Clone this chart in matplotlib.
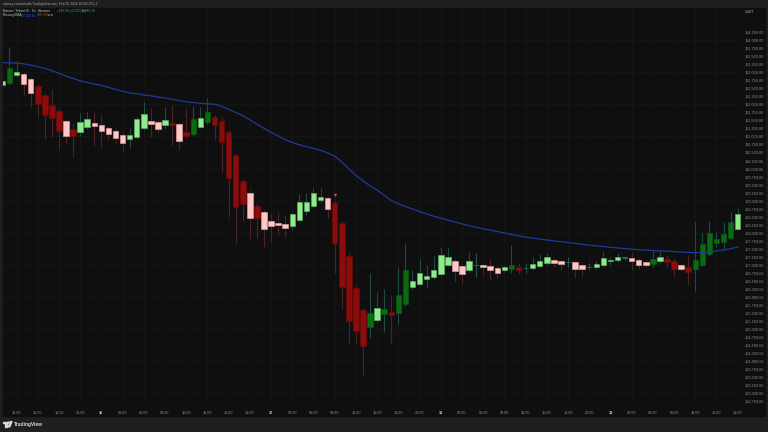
import matplotlib.pyplot as plt
from matplotlib.patches import Rectangle, Circle, Polygon

W, H = 768, 432

# hourly BTC/USDT candles, Feb 15 10:00 -> Feb 19 18:00
opens = [112597, 112659, 112908, 112949, 112784, 112575, 112285, 111982, 111795, 111474,
         111243, 111131, 111287, 111421, 111358, 111265, 111180, 111056, 110931, 110993,
         111274, 111483, 111442, 111349, 111430, 111389, 111131, 111068, 111305, 111442,
         111598, 111483, 111149, 110423, 109612, 109247, 108841, 108645, 108373, 108302,
         108270, 108208, 108395, 108685, 108823, 109028, 109091, 108916, 108292, 107282,
         106265, 105588, 105049, 105276, 105463, 105535, 105504, 105766, 106296, 106399,
         106564, 106608, 106726, 107007, 107116, 106960, 106826, 106992, 106992, 106960,
         106907, 106826, 106867, 106939, 106889, 106889, 106960, 107045, 107138, 107107,
         107076, 107076, 106982, 106929, 106929, 106982, 107107, 107138, 107219, 107210,
         107157, 107076, 107038, 107107, 107169, 107110, 106998, 106945, 106857, 106992,
         107325, 107668, 107718, 107843, 108105]
highs = [112793, 113782, 113364, 113011, 112855, 112637, 112356, 112472, 111857, 111545,
         111421, 111723, 111773, 111773, 111670, 111327, 111265, 111140, 111255, 111617,
         112076, 111879, 111514, 111929, 111982, 111452, 111857, 111951, 111929, 112191,
         111670, 111639, 111202, 110485, 109674, 109331, 108925, 108707, 108604, 108635,
         108551, 108645, 109206, 109228, 109384, 109393, 109144, 108988, 108364, 107366,
         106337, 105651, 106733, 106140, 106243, 106056, 106939, 107687, 106826, 107179,
         106992, 107272, 107562, 107512, 107179, 107023, 107406, 107375, 107054, 107169,
         106960, 106976, 107615, 107045, 107045, 107232, 107325, 107357, 107210, 107148,
         107251, 107116, 107023, 107045, 107116, 107428, 107251, 107357, 107288, 107357,
         107210, 107116, 107438, 107428, 107304, 107210, 107054, 107304, 108342, 107999,
         108373, 108030, 108342, 108654, 108760]
lows = [112544, 112621, 112871, 112294, 111929, 111617, 110931, 110993, 110579, 110788,
        110370, 111024, 111233, 110703, 110681, 110890, 110788, 110557, 110641, 110953,
        111202, 110993, 111099, 111255, 110734, 110579, 110943, 111015, 111265, 111389,
        110890, 109902, 108498, 107687, 108373, 107824, 107824, 107562, 107718, 107918,
        107874, 108083, 108333, 108551, 108770, 108935, 108448, 106733, 105610, 104550,
        104550, 103561, 104724, 105214, 104911, 104568, 105142, 105713, 106243, 106337,
        106315, 106555, 106680, 106960, 106471, 106399, 106773, 106627, 106680, 106524,
        106577, 106773, 106733, 106702, 106733, 106836, 106898, 106992, 106939, 106836,
        106920, 106577, 106649, 106836, 106882, 106929, 106992, 107085, 107148, 106836,
        106857, 106920, 106914, 107054, 106889, 106649, 106804, 106368, 106196, 106960,
        107272, 107544, 107481, 107803, 108068]
closes = [112721, 113145, 113002, 112628, 112347, 112004, 111661, 111577, 111162, 111006,
          111015, 111442, 111545, 111318, 111171, 111087, 110943, 110788, 111056, 111555,
          111701, 111389, 111224, 111514, 111349, 110869, 111006, 111545, 111567, 111773,
          111349, 110819, 109696, 108791, 108885, 108448, 108448, 108105, 108208, 108249,
          108155, 108573, 108957, 108957, 109228, 109122, 108738, 107693, 106296, 105245,
          104943, 104475, 105485, 105641, 105610, 105442, 106056, 106836, 106493, 106751,
          106649, 106836, 107294, 107232, 106804, 106702, 107126, 106992, 106939, 106845,
          106742, 106920, 107001, 106836, 106889, 107032, 107126, 107232, 107063, 107032,
          107076, 106876, 106857, 106929, 107032, 107201, 107157, 107251, 107219, 107126,
          106992, 107001, 107169, 107226, 107070, 106876, 106882, 106773, 107138, 107647,
          107999, 107793, 107949, 108342, 108598]
# 1 = strong (dark) candle, 0 = weak (light) candle
high_vol = [0, 1, 0, 0, 0, 1, 1, 1, 1, 0,
            1, 0, 0, 0, 0, 0, 0, 0, 0, 0,
            0, 0, 0, 0, 1, 0, 1, 1, 0, 1,
            1, 1, 1, 1, 1, 0, 1, 0, 0, 0,
            0, 0, 0, 0, 0, 0, 0, 1, 1, 1,
            1, 1, 1, 0, 1, 1, 1, 1, 0, 0,
            0, 0, 0, 0, 0, 0, 0, 0, 0, 0,
            0, 0, 1, 1, 0, 0, 0, 0, 0, 0,
            0, 0, 0, 0, 0, 0, 0, 0, 0, 0,
            0, 0, 1, 0, 1, 1, 0, 1, 1, 1,
            1, 1, 1, 1, 0]
ema = [113302, 113299, 113289, 113268, 113227, 113180, 113124, 113055, 112971, 112884,
       112809, 112737, 112684, 112637, 112594, 112531, 112472, 112410, 112360, 112335,
       112297, 112269, 112232, 112201, 112163, 112123, 112085, 112057, 112036, 112020,
       112007, 111945, 111848, 111749, 111649, 111521, 111384, 111256, 111131, 111019,
       110903, 110813, 110741, 110682, 110626, 110570, 110488, 110386, 110205, 109996,
       109787, 109618, 109462, 109328, 109166, 109007, 108901, 108817, 108739, 108658,
       108583, 108514, 108452, 108392, 108333, 108274, 108221, 108168, 108115, 108077,
       108037, 107993, 107946, 107900, 107862, 107828, 107803, 107772, 107744, 107716,
       107691, 107666, 107638, 107610, 107588, 107566, 107544, 107525, 107504, 107485,
       107469, 107457, 107441, 107432, 107422, 107410, 107398, 107385, 107376, 107382,
       107404, 107429, 107460, 107500, 107550]
signal_idx = [47]
signal_price = [109122]

price_ticks = list(range(102750, 114251, 250))
time_ticks = list(range(2, 105, 3))
time_labels = ["12:00", "15:00", "18:00", "21:00", "16", "03:00", "06:00", "09:00",
               "12:00", "15:00", "18:00", "21:00", "17", "03:00", "06:00", "09:00",
               "12:00", "15:00", "18:00", "21:00", "18", "03:00", "06:00", "09:00",
               "12:00", "15:00", "18:00", "21:00", "19", "03:00", "06:00", "09:00",
               "12:00", "15:00", "18:00"]

FRAME = "#1f1f1f"
PANE = "#0f0f0f"
GRID = "#171717"
TXT = "#8c8c8c"

plt.rcParams["font.family"] = ["Liberation Sans", "DejaVu Sans"]

fig = plt.figure(figsize=(W / 100, H / 100), dpi=100, facecolor=FRAME)
fig.add_artist(Rectangle((3 / W, 1 - 416 / H), 762 / W, 408 / H,
                         transform=fig.transFigure, color=PANE, zorder=0))

ax = fig.add_axes([3 / W, 1 - 405 / H, 740 / W, 397 / H])
ax.set_facecolor(PANE)
ax.set_xlim(0.085, 104.75)
ax.set_ylim(102625, 115008)
for s in ax.spines.values():
    s.set_visible(False)

for t in time_ticks:
    ax.axvline(t, color=GRID, lw=0.6, zorder=0)
for p in range(103000, 115000, 1000):
    ax.axhline(p, color=GRID, lw=0.6, zorder=0)

for i in range(len(opens)):
    o, h, l, c = opens[i], highs[i], lows[i], closes[i]
    if c > o:
        face, edge = ("#0a6b12", "#085a0e") if high_vol[i] else ("#90ea90", "#5faa5f")
        wick = "#1c4a46"
    elif c < o:
        face, edge = ("#8c0b0b", "#6e0808") if high_vol[i] else ("#ffc8c8", "#d49a9a")
        wick = "#4c2222"
    else:
        face, edge = "#2b6e68", "#2b6e68"
        wick = "#24534f"
    ax.vlines(i, l, h, color=wick, lw=0.8, zorder=2)
    ax.bar(i, max(abs(c - o), 8), bottom=min(o, c), width=0.78,
           color=face, edgecolor=edge, lw=0.5, zorder=3)

ax.plot(range(len(ema)), ema, color="#1e3a98", lw=0.9, zorder=4)
ax.scatter(signal_idx, [p + 60 for p in signal_price], marker="v", s=6,
           color="#e8463f", lw=0, zorder=5)

ax.yaxis.tick_right()
ax.set_yticks(price_ticks, [f"{p:,.2f}" for p in price_ticks])
ax.set_xticks(time_ticks, time_labels)
ax.tick_params(axis="y", length=0, pad=1.3, labelsize=2.8, labelcolor=TXT)
ax.tick_params(axis="x", length=0, pad=4.2, labelsize=2.7, labelcolor=TXT)
for lab in ax.get_xticklabels():
    if ":" not in lab.get_text():
        lab.set_color("#d8d8d8")
        lab.set_fontweight("bold")


def px(x, y):
    return x / W, 1 - y / H


fig.text(*px(3, 4.3), "sdensy created with TradingView.com, Feb 20, 2026 10:43 UTC+1",
         fontsize=2.3, color="#a8a8a8", va="center")
fig.text(*px(3, 11.3), "Bitcoin / TetherUS · 1h · Binance", fontsize=2.3,
         color="#c8c8c8", va="center")
fig.text(*px(56.7, 11.3), "+242.00 (+0.22%)", fontsize=2.3, color="#26a69a", va="center")
fig.text(*px(81.7, 11.3), "Vol", fontsize=2.3, color="#c8c8c8", va="center")
fig.text(*px(86, 11.3), "932.20", fontsize=2.3, color="#26a69a", va="center")
fig.text(*px(3, 15.3), "Moving EMA", fontsize=2.3, color="#c8c8c8", va="center")
fig.text(*px(20.7, 15.3), "107,550.42", fontsize=2.2, color="#2962ff", va="center")
fig.text(*px(36.5, 15.3), "0.00", fontsize=2.2, color="#22ab3a", va="center")
fig.text(*px(42.5, 15.3), "0.00", fontsize=2.2, color="#f23645", va="center")
fig.text(*px(48.5, 15.3), "ø ø", fontsize=2.2, color="#c8c8c8", va="center")
fig.text(*px(745, 12), "USDT", fontsize=2.5, color="#b0b0b0", va="center")

# TradingView logo in the bottom strip
fig.add_artist(Rectangle(px(3, 423.3), 4.2 / W, 1.6 / H, transform=fig.transFigure,
                         color="#d8d8d8"))
fig.add_artist(Rectangle(px(5, 426.8), 2.2 / W, 3.6 / H, transform=fig.transFigure,
                         color="#d8d8d8"))
fig.add_artist(Circle(px(8.6, 422.6), 0.9 / W, transform=fig.transFigure,
                      color="#d8d8d8"))
fig.add_artist(Polygon([px(8.3, 426.8), px(10.6, 421.6), px(12, 421.6), px(9.8, 426.8)],
                       closed=True, transform=fig.transFigure, color="#d8d8d8"))
fig.text(*px(13.5, 424.3), "TradingView", fontsize=3.5, fontweight="bold",
         color="#d8d8d8", va="center")

fig.savefig("out.png", dpi=100, facecolor=fig.get_facecolor())
